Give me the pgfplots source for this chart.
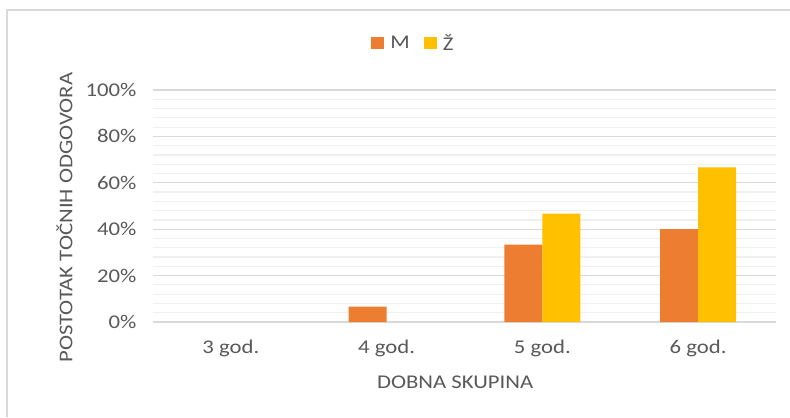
\documentclass[border=0pt]{standalone}
\usepackage{pgfplots}
\pgfplotsset{compat=1.18}
\usepackage{fontspec}
\setmainfont{Carlito}[FakeStretch=1.17]
\definecolor{morange}{HTML}{ED7D31}
\definecolor{myellow}{HTML}{FFC000}
\definecolor{txt}{HTML}{595959}
\definecolor{gmaj}{HTML}{D9D9D9}
\definecolor{gmin}{HTML}{F0F0F0}
\begin{document}
\begin{tikzpicture}[x=1bp,y=1bp]
\path[use as bounding box, fill=white] (0,0) rectangle (790,417);
\draw[gmaj, line width=1.5bp] (7,0) -- (7,407) -- (790,407);
\begin{axis}[
  at={(153bp,95bp)}, anchor=south west,
  scale only axis, width=623bp, height=232bp,
  ybar=0pt, bar width=38bp,
  xmin=-0.5, xmax=3.5, ymin=0, ymax=100,
  xtick={0,1,2,3}, xticklabels={3 god.,4 god.,5 god.,6 god.},
  ytick={0,20,40,60,80,100},
  yticklabel={\pgfmathprintnumber{\tick}\%},
  /pgf/number format/assume math mode=true,
  minor y tick num=4,
  ymajorgrids, yminorgrids,
  major grid style={gmaj, line width=1.3bp},
  minor grid style={gmin, line width=1.2bp},
  axis line style={draw=none},
  major tick length=0pt, minor tick length=0pt,
  tick style={draw=none},
  font=\fontsize{19.5}{22}\selectfont,
  tick label style={text=txt},
  yticklabel style={xshift=-13bp},
  xticklabel style={yshift=-14bp},
  xlabel={DOBNA SKUPINA},
  ylabel={POSTOTAK TOČNIH ODGOVORA},
  label style={text=txt},
  xlabel style={at={(axis description cs:0.485,0)}, anchor=center, yshift=-60bp},
  ylabel style={at={(axis description cs:-0.142,0.45)}, anchor=center},
  legend columns=2,
  legend style={draw=none, fill=none, at={(axis description cs:0.418,1.203)}, anchor=center,
    text=txt, /tikz/every odd column/.append style={column sep=4bp},
    /tikz/every even column/.append style={column sep=12bp}},
  legend image code/.code={\fill[#1] (0bp,-6bp) rectangle (13bp,6bp);},
]
\addplot[fill=morange, draw=none] coordinates {(1,6.67) (2,33.33) (3,40)};
\addplot[fill=myellow, draw=none] coordinates {(2,46.67) (3,66.67)};
\legend{M,Ž}
\end{axis}
\end{tikzpicture}
\end{document}
